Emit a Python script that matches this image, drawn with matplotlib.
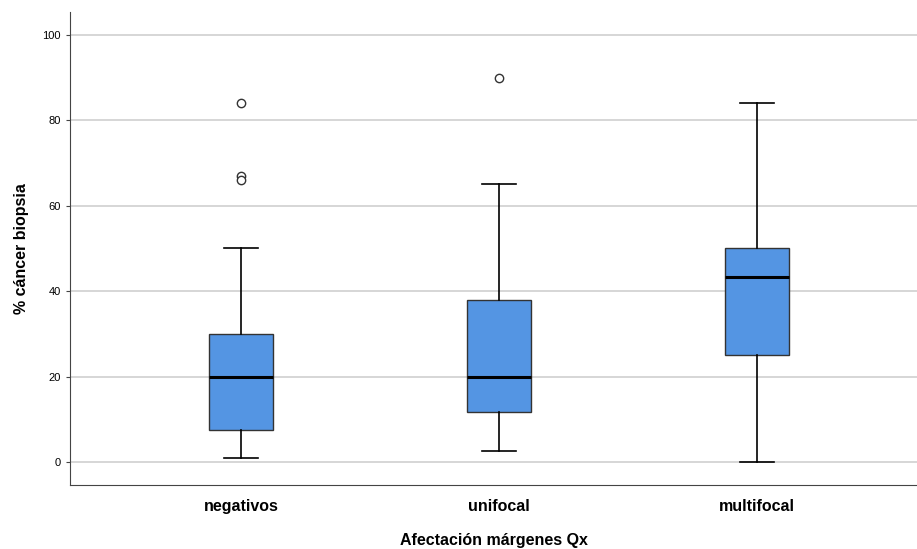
import matplotlib
matplotlib.use("Agg")
from matplotlib import pyplot as plt

plt.rcParams['font.family'] = ['Liberation Sans', 'DejaVu Sans']

# Box statistics
groups = ['negativos', 'unifocal', 'multifocal']
whisker_low = [1, 2.5, 0]
q1 = [7.5, 11.7, 25]
medians = [20, 20, 43.3]
q3 = [30, 38, 50]
whisker_high = [50, 65, 84]
outliers = [[84, 67, 66], [90], []]

stats = []
for i, name in enumerate(groups):
    stats.append({
        'label': name,
        'whislo': whisker_low[i],
        'q1': q1[i],
        'med': medians[i],
        'q3': q3[i],
        'whishi': whisker_high[i],
        'fliers': outliers[i],
    })

fig = plt.figure(figsize=(9.17, 5.49), dpi=100)
ax = fig.add_axes([0.0763, 0.1166, 0.9237, 0.8616])

ax.yaxis.grid(True, color='#d0d0d0', linewidth=1.2)
ax.set_axisbelow(True)

ax.bxp(stats, positions=[1, 2, 3], widths=0.25, patch_artist=True,
       boxprops=dict(facecolor='#5495e3', edgecolor='#333333', linewidth=1),
       medianprops=dict(color='black', linewidth=2.2),
       whiskerprops=dict(color='black', linewidth=1.2),
       capprops=dict(color='black', linewidth=1.2),
       capwidths=0.13,
       flierprops=dict(marker='o', markerfacecolor='white', markeredgecolor='#333333',
                       markersize=6, markeredgewidth=1))

ax.set_xlim(0.337, 3.62)
ax.set_ylim(-5.4, 105.4)
ax.set_yticks([0, 20, 40, 60, 80, 100])
ax.tick_params(axis='y', labelsize=8, length=3, color='#444444')
ax.tick_params(axis='x', length=0, labelsize=11.5, pad=10)
for lbl in ax.get_xticklabels():
    lbl.set_fontweight('bold')

ax.spines['top'].set_visible(False)
ax.spines['right'].set_visible(False)
ax.spines['left'].set_color('#444444')
ax.spines['bottom'].set_color('#444444')

ax.set_xlabel('Afectación márgenes Qx', fontsize=11.5, fontweight='bold', labelpad=14)
ax.set_ylabel('% cáncer biopsia', fontsize=11.5, fontweight='bold', labelpad=10)

fig.savefig('out.png', dpi=100)
